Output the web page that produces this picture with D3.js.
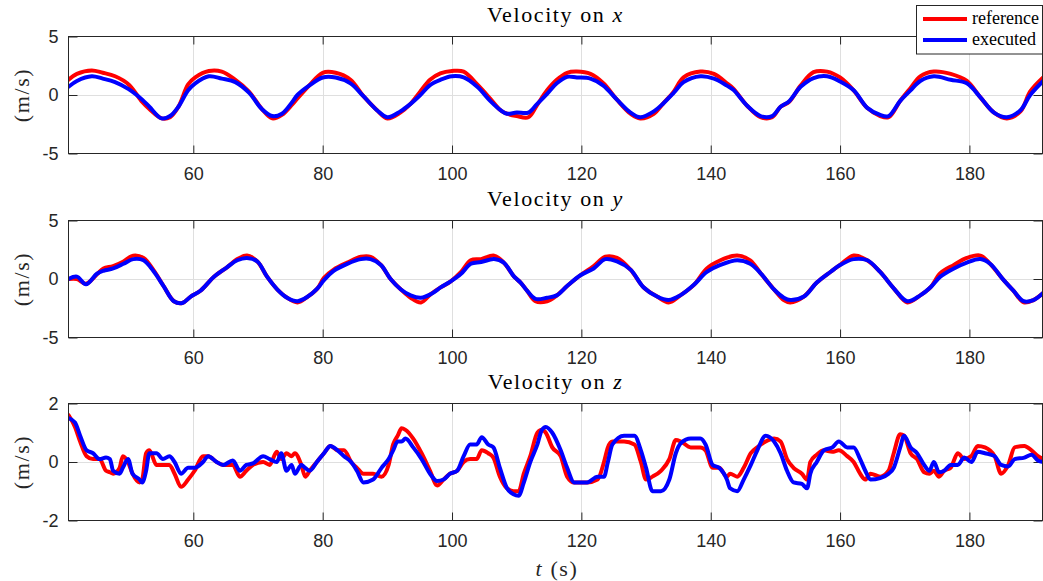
<!DOCTYPE html>
<html>
<head>
<meta charset="utf-8">
<script src="https://cdn.jsdelivr.net/npm/d3@7"></script>
<style>
  body { margin: 0; background: #fff; }
  svg { display: block; }
  .tick text { font-family: "Liberation Sans", Arial, Helvetica, sans-serif; font-size: 18px; fill: #262626; }
  .tick line { stroke: #262626; }
  .domain { display: none; }
</style>
</head>
<body>
<svg id="chart"></svg>
<script>
// Velocities (m/s), time in seconds
const tX = [40.7,42,44.3,46,47.9,50,52.1,53.2,55.1,56.4,57.7,59.2,60.3,62.4,64.4,66.5,68.6,70.6,72.2,73.7,75.3,76.1,77.9,80,82,84.3,86.3,88.4,90,92,93.5,95.1,96.6,98.2,100,101.8,103.9,105.9,107.5,108.5,110,111.8,113.1,114.7,116.2,117.8,119.3,121.4,123.4,125.5,127.6,129.1,131.2,132.7,134.3,135.8,138.4,140.5,142.5,143.5,145.6,147.7,149.5,150.8,152.1,153.9,155.9,158,160,162.1,164.2,166.2,167.5,169.3,170.9,172.4,174.5,177.1,179.6,181.7,183.8,185.8,187.9,189.4,191.4];
const refX = [1.3,1.8,2.1,1.9,1.6,0.9,-0.6,-1.2,-2.0,-1.9,-1.0,0.9,1.5,2.05,2.0,1.3,0.3,-1.2,-2.0,-1.7,-0.8,-0.3,0.8,1.9,1.9,1.3,-0.1,-1.3,-2.0,-1.5,-0.8,0.3,1.3,1.85,2.05,2.0,0.9,-0.3,-1.3,-1.6,-1.8,-1.9,-0.9,0.4,1.3,1.9,2.0,1.8,1.0,-0.4,-1.6,-2.0,-1.6,-0.7,0.3,1.5,2.0,1.8,1.0,0.55,-0.9,-1.9,-1.9,-1.0,-0.6,0.8,1.95,2.0,1.5,0.4,-1.1,-1.8,-1.9,-0.5,0.6,1.6,2.0,1.8,1.2,-0.2,-1.5,-2.0,-1.4,0.3,1.5];
const exeX = [0.7,1.2,1.6,1.4,1.1,0.5,-0.4,-1.0,-2.0,-1.8,-1.0,0.4,1.0,1.6,1.4,1.1,0.2,-1.2,-1.8,-1.6,-0.6,0.0,0.8,1.5,1.5,1.0,-0.1,-1.3,-1.9,-1.4,-0.8,0.0,0.85,1.3,1.6,1.5,0.7,-0.5,-1.3,-1.6,-1.5,-1.5,-0.8,0.1,1.0,1.55,1.5,1.4,0.8,-0.4,-1.5,-1.9,-1.4,-0.7,0.2,1.1,1.6,1.4,0.8,0.45,-0.9,-1.8,-1.8,-1.0,-0.55,0.7,1.45,1.6,1.15,0.4,-1.1,-1.7,-1.8,-0.5,0.4,1.2,1.6,1.3,1.0,-0.2,-1.5,-1.9,-1.3,0.0,1.2];

const tY = [40.7,42,43.4,45.1,46.1,47.6,49.2,50.7,52.3,53.8,55.4,57,58.3,59.6,61.1,63.2,65.2,66.8,68.3,69.9,71.4,73,74.5,76.1,77.7,79.2,80.2,81.7,83.8,85.9,87.4,89,90.5,92.1,93.6,95.2,96.7,98.3,99.8,101.4,102.9,104.5,106.5,108,109.6,110.6,111.6,112.9,114.7,116.2,117.8,119.8,121.9,123.7,125.5,127.6,129.6,131.7,133.5,135.3,137.4,139.4,141.5,144.1,146.1,147.7,149.8,151.3,152.3,154.4,156.4,158.5,160,162.1,164.2,166.2,168.3,170.4,172.4,174,175.5,177.6,179.6,181.7,183.2,185.3,186.8,188.4,189.9,191.4];
const refY = [0,0,-0.4,0.4,0.9,1.1,1.5,2.0,1.8,0.8,-0.6,-1.9,-2.05,-1.5,-1.0,0.2,1.0,1.7,2.0,1.5,0.2,-0.9,-1.6,-2.0,-1.5,-0.8,0.1,0.8,1.4,1.9,1.9,1.2,0.0,-0.9,-1.6,-2.0,-1.3,-0.7,-0.2,0.6,1.6,1.7,2.0,1.4,0.2,-0.3,-1.0,-1.9,-1.9,-1.4,-0.6,0.3,1.1,1.9,1.8,0.8,-0.7,-1.5,-2.0,-1.4,-0.5,0.9,1.6,2.0,1.6,0.5,-0.9,-1.8,-2.0,-1.5,-0.3,0.6,1.2,2.0,1.6,0.6,-0.8,-2.0,-1.4,-0.7,0.5,1.2,1.8,2.0,1.3,-0.1,-1.0,-2.0,-1.8,-1.2];
const exeY = [0,0.2,-0.45,0.45,0.7,0.9,1.3,1.7,1.6,0.7,-0.6,-1.9,-2.05,-1.5,-1.0,0.2,1.0,1.6,1.8,1.5,0.2,-0.9,-1.6,-1.9,-1.5,-0.8,-0.1,0.7,1.3,1.7,1.7,1.2,0.0,-0.9,-1.4,-1.6,-1.3,-0.7,-0.2,0.45,1.3,1.45,1.7,1.4,0.2,-0.3,-1.0,-1.7,-1.6,-1.4,-0.6,0.3,0.9,1.7,1.5,0.8,-0.7,-1.5,-1.8,-1.4,-0.5,0.6,1.2,1.6,1.3,0.5,-0.9,-1.6,-1.8,-1.5,-0.3,0.6,1.2,1.7,1.6,0.6,-0.8,-1.9,-1.4,-0.7,0.2,0.9,1.4,1.7,1.3,-0.1,-1.0,-1.9,-1.8,-1.2];

const tZ = [40.7,41.7,42.5,43.5,44.5,45.5,46.5,47.1,47.6,48.6,49.1,49.9,50.6,51.7,52.1,52.7,53.2,54.3,55.3,56.3,57.1,58.1,59.2,60.2,61.5,62.3,63.6,64.6,66.1,67.2,68.2,69.2,70.8,71.8,72.9,73.6,74.4,75.2,75.7,76.7,77.3,78,79.1,80.2,81.2,82.3,83.3,84.4,85.3,86.3,87.8,89.1,90.2,90.9,91.6,92.2,92.8,94,95.3,96.6,97.7,98.7,99.7,100.8,101.8,102.8,103.8,104.6,105.6,106.4,107.4,108.5,109.5,110.3,111.1,112.1,113.2,113.9,114.5,115.5,116.8,117.8,118.9,120.9,122.5,123.5,124.1,124.8,126.6,128.2,129.2,130,131,132.3,133.6,134.6,135.4,136.9,138.4,139.2,140.3,141.3,142.5,143,144.1,145.1,146.2,147.2,148.5,149.8,150.8,151.8,152.8,154.1,154.9,155.4,156.4,157.5,158.8,159.8,161.1,162.1,163.1,163.9,164.7,166.2,167.5,168.3,169.3,169.9,170.9,171.9,173,173.8,174.5,175.3,176.1,177.1,178.2,179.2,180.3,181.3,182.4,183.9,184.9,186,187,188.5,189.6,190.6,191.4];
const refZ = [1.6,1.2,0.7,0.2,0.1,0.1,-0.3,-0.35,-0.4,-0.2,0.2,0.0,-0.4,-0.7,-0.6,0.3,0.4,-0.1,-0.1,-0.1,-0.4,-0.85,-0.6,-0.3,0.2,0.2,0.0,-0.1,-0.1,-0.5,-0.3,-0.1,0.0,-0.1,0.35,0.1,0.3,0.2,0.3,-0.1,-0.5,-0.3,0.0,0.3,0.55,0.4,0.4,0.0,-0.2,-0.4,-0.4,-0.5,-0.1,0.6,0.9,1.15,1.1,0.8,0.3,-0.3,-0.8,-0.6,-0.4,-0.3,0.0,0.1,0.1,0.4,0.3,0.15,-0.5,-0.9,-1.0,-1.0,-0.4,0.2,1.0,1.1,1.0,0.5,0.2,-0.5,-0.7,-0.7,-0.6,0.0,0.5,0.7,0.7,0.6,0.0,-0.6,-0.5,-0.3,0.1,0.75,0.7,0.5,0.5,0.4,-0.2,-0.2,-0.5,-0.4,-0.5,-0.2,0.3,0.5,0.7,0.8,0.7,0.1,-0.2,-0.4,-0.6,0.0,0.25,0.4,0.35,0.4,0.2,0.0,-0.4,-0.6,-0.4,-0.5,-0.3,0.3,0.95,0.9,0.3,0.1,-0.35,-0.4,-0.3,-0.5,-0.3,-0.2,0.3,0.1,0.2,0.55,0.5,0.2,-0.4,-0.1,0.5,0.55,0.4,0.2,0.1];
const exeZ = [1.5,1.35,0.9,0.4,0.3,0.1,0.15,0.1,-0.3,-0.4,-0.2,0.1,-0.4,-0.6,-0.7,-0.3,0.3,0.3,0.1,0.2,0.0,-0.4,-0.2,-0.2,0.0,0.2,0.0,-0.1,0.05,-0.3,-0.1,-0.05,0.2,0.1,0.0,0.3,-0.3,-0.1,-0.4,-0.1,-0.2,-0.3,0.0,0.3,0.55,0.4,0.2,0.0,-0.3,-0.7,-0.6,-0.2,0.1,0.4,0.7,0.7,0.8,0.5,0.1,-0.4,-0.65,-0.6,-0.4,-0.3,0.2,0.6,0.6,0.85,0.6,0.5,-0.2,-0.9,-1.1,-1.15,-0.7,0.0,0.6,1.1,1.2,1.0,0.4,-0.2,-0.7,-0.7,-0.5,-0.5,0.0,0.6,0.9,0.9,0.4,-0.2,-1.0,-1.0,-0.6,0.3,0.65,0.8,0.8,0.6,-0.1,-0.2,-0.6,-0.9,-1.0,-0.6,-0.1,0.4,0.9,0.7,0.3,-0.3,-0.7,-0.75,-0.9,-0.4,0.0,0.4,0.5,0.7,0.5,0.5,0.1,-0.3,-0.6,-0.55,-0.4,-0.2,0.5,0.9,0.5,0.3,-0.1,-0.3,0.0,-0.35,-0.3,-0.1,-0.1,0.15,0.0,0.35,0.3,0.2,-0.1,-0.15,0.1,0.15,0.25,0.05,0.0];

const timeTicks = [60, 80, 100, 120, 140, 160, 180];
const timeRange = [40.7, 191.3];
const seriesNames = ["reference", "executed"];
const seriesColors = ["#ff0000", "#0000ff"];

const panels = [
  { axis: "x", t: tX, ref: refX, exe: exeX, dom: [-5, 5], ticks: [-5, 0, 5] },
  { axis: "y", t: tY, ref: refY, exe: exeY, dom: [-5, 5], ticks: [-5, 0, 5] },
  { axis: "z", t: tZ, ref: refZ, exe: exeZ, dom: [-2, 2], ticks: [-2, 0, 2] }
];

const width = 1043, height = 581;
const left = 68.5, right = 1042.5;
const panelTops = [36.5, 220.5, 403.5];
const panelH = 117;
const serif = "'Liberation Serif', 'DejaVu Serif', serif";
const plain = d => String(d);   // hyphen minus, no decimals, like the original

const svg = d3.select("#chart").attr("width", width).attr("height", height);

const x = d3.scaleLinear().domain(timeRange).range([left, right]);

panels.forEach((p, i) => {
  const top = panelTops[i];
  const y = d3.scaleLinear().domain(p.dom).range([top + panelH, top]);
  const g = svg.append("g");

  // background + grid
  g.append("rect").attr("x", left).attr("y", top).attr("width", right - left).attr("height", panelH)
    .attr("fill", "#fff");
  g.selectAll(".vgrid").data(timeTicks).enter().append("line")
    .attr("x1", d => Math.round(x(d)) + 0.5).attr("x2", d => Math.round(x(d)) + 0.5)
    .attr("y1", top).attr("y2", top + panelH)
    .attr("stroke", "#dfdfdf").attr("stroke-width", 1);
  g.selectAll(".hgrid").data(p.ticks.slice(1, -1)).enter().append("line")
    .attr("x1", left).attr("x2", right)
    .attr("y1", d => Math.round(y(d)) + 0.5).attr("y2", d => Math.round(y(d)) + 0.5)
    .attr("stroke", "#dfdfdf").attr("stroke-width", 1);

  // ticks
  g.append("g").attr("transform", `translate(0,${top + panelH})`)
    .call(d3.axisBottom(x).tickValues(timeTicks).tickFormat(plain)
      .tickSizeInner(-8).tickSizeOuter(0).tickPadding(14));
  g.append("g").attr("transform", `translate(0,${top})`)
    .call(d3.axisTop(x).tickValues(timeTicks).tickSizeInner(-8).tickSizeOuter(0).tickFormat(""));
  g.append("g").attr("transform", `translate(${left},0)`)
    .call(d3.axisLeft(y).tickValues(p.ticks).tickFormat(plain)
      .tickSizeInner(-9).tickSizeOuter(0).tickPadding(10));
  g.append("g").attr("transform", `translate(${right},0)`)
    .call(d3.axisRight(y).tickValues(p.ticks).tickSizeInner(-9).tickSizeOuter(0).tickFormat(""));

  // data lines
  const clipId = "clip" + i;
  svg.append("clipPath").attr("id", clipId).append("rect")
    .attr("x", left).attr("y", top).attr("width", right - left).attr("height", panelH);
  const line = d3.line().x(d => x(d[0])).y(d => y(d[1]))
    .curve(i < 2 ? d3.curveCatmullRom.alpha(0.5) : d3.curveMonotoneX);
  [p.ref, p.exe].forEach((vals, k) => {
    g.append("path").datum(d3.zip(p.t, vals))
      .attr("clip-path", `url(#${clipId})`)
      .attr("fill", "none").attr("stroke", seriesColors[k])
      .attr("stroke-width", 4).attr("stroke-linejoin", "round").attr("stroke-linecap", "round")
      .attr("d", line);
  });

  // box
  g.append("rect").attr("x", left).attr("y", top).attr("width", right - left).attr("height", panelH)
    .attr("fill", "none").attr("stroke", "#262626").attr("stroke-width", 1);

  // title
  const title = svg.append("text").attr("font-family", serif)
    .attr("x", (left + right) / 2).attr("y", top - 15)
    .attr("text-anchor", "middle").attr("font-size", 22).attr("letter-spacing", 1.6)
    .attr("fill", "#000");
  title.append("tspan").text("Velocity on ");
  title.append("tspan").attr("font-style", "italic").text(p.axis);

  // y label
  svg.append("text").attr("font-family", serif)
    .attr("transform", `translate(29,${top + panelH / 2}) rotate(-90)`)
    .attr("text-anchor", "middle").attr("font-size", 22).attr("letter-spacing", 1.6)
    .attr("fill", "#262626")
    .text("(m/s)");
});

// x label
const xl = svg.append("text").attr("font-family", serif)
  .attr("x", 557).attr("y", 576).attr("text-anchor", "middle")
  .attr("font-size", 22).attr("letter-spacing", 1.6).attr("fill", "#262626");
xl.append("tspan").attr("font-style", "italic").text("t");
xl.append("tspan").text(" (s)");

// legend
const leg = svg.append("g");
leg.append("rect").attr("x", 916.5).attr("y", 5.5).attr("width", 126).attr("height", 48.5)
  .attr("fill", "#fff").attr("stroke", "#262626").attr("stroke-width", 1);
seriesNames.forEach((name, k) => {
  const ly = 19 + k * 21;
  leg.append("line").attr("x1", 923).attr("x2", 967).attr("y1", ly).attr("y2", ly)
    .attr("stroke", seriesColors[k]).attr("stroke-width", 4);
  leg.append("text").attr("font-family", serif).attr("x", 972).attr("y", ly + 5)
    .attr("font-size", 18).attr("fill", "#000").text(name);
});
</script>
</body>
</html>
